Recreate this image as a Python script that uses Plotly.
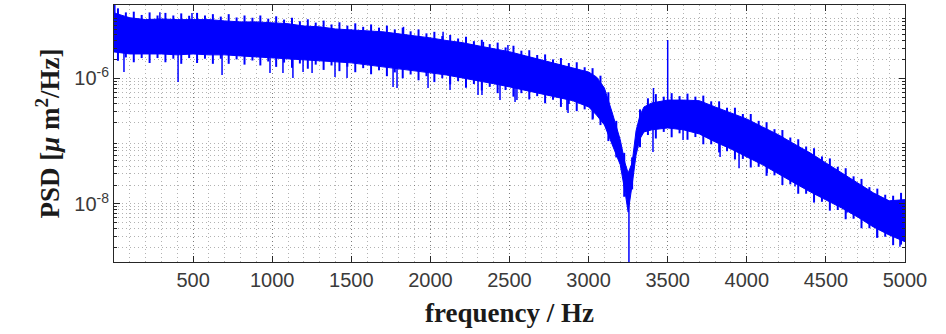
import plotly.graph_objects as go

# ---- data (PSD in um^2/Hz) ----
# dense core of the spectrum
band_freq = [0, 100, 200, 300, 400, 500, 600, 700, 800, 900, 1000, 1100, 1200, 1300, 1400,
             1500, 1600, 1700, 1800, 1900, 2000, 2100, 2200, 2300, 2400, 2500, 2600, 2700,
             2800, 2900, 3000, 3050, 3100, 3150, 3200, 3230, 3250, 3275, 3300, 3325, 3350,
             3400, 3500, 3600, 3700, 3800, 3900, 4000, 4100, 4200, 4300, 4400, 4500, 4600,
             4700, 4800, 4900, 5000]
band_top = [1.1e-5, 9.2e-6, 8.6e-6, 8.8e-6, 8.6e-6, 8.6e-6, 8.6e-6, 8.2e-6, 7.9e-6, 7.9e-6,
            7.7e-6, 7.4e-6, 6.8e-6, 6.6e-6, 6.1e-6, 5.9e-6, 5.7e-6, 5.5e-6, 5.1e-6, 4.8e-6,
            4.4e-6, 4.0e-6, 3.7e-6, 3.3e-6, 2.95e-6, 2.65e-6, 2.28e-6, 1.96e-6, 1.7e-6,
            1.47e-6, 1.26e-6, 1.05e-6, 7.0e-7, 2.8e-7, 1.05e-7, 4.5e-8, 3.1e-8, 4.5e-8,
            1.46e-7, 2.6e-7, 3.5e-7, 4.05e-7, 4.5e-7, 4.5e-7, 4.4e-7, 3.5e-7, 2.8e-7, 2.25e-7,
            1.68e-7, 1.26e-7, 9.0e-8, 6.5e-8, 4.5e-8, 3.1e-8, 2.16e-8, 1.5e-8, 1.12e-8, 1.17e-8]
band_bottom = [2.63e-6, 2.44e-6, 2.44e-6, 2.44e-6, 2.36e-6, 2.44e-6, 2.36e-6, 2.36e-6, 2.27e-6,
               2.2e-6, 2.12e-6, 2.04e-6, 1.96e-6, 1.89e-6, 1.83e-6, 1.76e-6, 1.64e-6, 1.52e-6,
               1.41e-6, 1.31e-6, 1.22e-6, 1.13e-6, 1.02e-6, 9.1e-7, 8.2e-7, 7.3e-7, 6.5e-7,
               5.8e-7, 5.0e-7, 4.4e-7, 3.5e-7, 2.6e-7, 1.81e-7, 8.7e-8, 4.2e-8, 1.56e-8,
               7.4e-9, 2.0e-8, 6.0e-8, 1.09e-7, 1.4e-7, 1.51e-7, 1.62e-7, 1.51e-7, 1.3e-7,
               9.7e-8, 7.5e-8, 5.6e-8, 4.2e-8, 3.0e-8, 2.16e-8, 1.56e-8, 1.15e-8, 8.6e-9,
               6.2e-9, 4.3e-9, 3.2e-9, 2.5e-9]

# noisy excursions around the core, every 50 Hz
edge_freq = [25, 75, 125, 175, 225, 275, 325, 375, 425, 475, 525, 575, 625, 675, 725, 775,
             825, 875, 925, 975, 1025, 1075, 1125, 1175, 1225, 1275, 1325, 1375, 1425, 1475,
             1525, 1575, 1625, 1675, 1725, 1775, 1825, 1875, 1925, 1975, 2025, 2075, 2125,
             2175, 2225, 2275, 2325, 2375, 2425, 2475, 2525, 2575, 2625, 2675, 2725, 2775,
             2825, 2875, 2925, 2975, 3025, 3075, 3125, 3175, 3225, 3275, 3325, 3375, 3425,
             3475, 3525, 3575, 3625, 3675, 3725, 3775, 3825, 3875, 3925, 3975, 4025, 4075,
             4125, 4175, 4225, 4275, 4325, 4375, 4425, 4475, 4525, 4575, 4625, 4675, 4725,
             4775, 4825, 4875, 4925, 4975]
edge_high = [1.3e-5, 1.12e-5, 1.15e-5, 1.02e-5, 1.12e-5, 1.0e-5, 1.1e-5, 1.0e-5, 1.08e-5, 9.9e-6,
             1.1e-5, 1.0e-5, 1.05e-5, 9.6e-6, 1.05e-5, 9.3e-6, 1.0e-5, 9.2e-6, 1.0e-5, 8.9e-6,
             9.7e-6, 8.6e-6, 9.2e-6, 8.1e-6, 8.7e-6, 7.7e-6, 8.3e-6, 7.2e-6, 7.8e-6, 6.9e-6,
             7.5e-6, 6.6e-6, 7.2e-6, 6.4e-6, 6.9e-6, 6.0e-6, 6.4e-6, 5.6e-6, 6.0e-6, 5.2e-6,
             5.5e-6, 4.7e-6, 4.9e-6, 4.3e-6, 4.6e-6, 3.9e-6, 4.1e-6, 3.5e-6, 3.7e-6, 3.1e-6,
             3.3e-6, 2.75e-6, 2.8e-6, 2.35e-6, 2.4e-6, 2.0e-6, 2.1e-6, 1.75e-6, 1.8e-6, 1.5e-6,
             1.45e-6, 1.1e-6, 6.0e-7, 2.1e-7, 6.5e-8, 5.5e-8, 3.2e-7, 4.8e-7, 5.6e-7, 5.1e-7,
             5.8e-7, 5.2e-7, 5.7e-7, 5.1e-7, 5.3e-7, 4.3e-7, 4.3e-7, 3.4e-7, 3.4e-7, 2.7e-7,
             2.7e-7, 2.1e-7, 2.0e-7, 1.55e-7, 1.5e-7, 1.14e-7, 1.07e-7, 8.2e-8, 7.7e-8, 5.7e-8,
             5.3e-8, 3.9e-8, 3.7e-8, 2.75e-8, 2.5e-8, 1.85e-8, 1.75e-8, 1.4e-8, 1.35e-8, 1.5e-8]
edge_low = [1.9e-6, 2.15e-6, 1.8e-6, 2.1e-6, 1.75e-6, 2.1e-6, 1.8e-6, 2.05e-6, 1.7e-6, 2.1e-6,
            1.75e-6, 2.05e-6, 1.7e-6, 2.05e-6, 1.7e-6, 2.0e-6, 1.65e-6, 1.92e-6, 1.6e-6, 1.85e-6,
            1.52e-6, 1.78e-6, 1.47e-6, 1.72e-6, 1.42e-6, 1.65e-6, 1.36e-6, 1.6e-6, 1.3e-6,
            1.53e-6, 1.25e-6, 1.45e-6, 1.16e-6, 1.34e-6, 1.08e-6, 1.24e-6, 1.0e-6, 1.15e-6,
            9.3e-7, 1.08e-6, 8.7e-7, 1.0e-6, 8.0e-7, 9.0e-7, 7.1e-7, 8.1e-7, 6.4e-7, 7.3e-7,
            5.8e-7, 6.5e-7, 5.1e-7, 5.8e-7, 4.6e-7, 5.2e-7, 4.0e-7, 4.55e-7, 3.5e-7, 3.9e-7,
            3.0e-7, 3.2e-7, 2.2e-7, 1.8e-7, 1.0e-7, 5.5e-8, 1.3e-8, 1.7e-8, 8.0e-8, 1.25e-7,
            1.1e-7, 1.4e-7, 1.15e-7, 1.33e-7, 1.05e-7, 1.16e-7, 8.9e-8, 8.9e-8, 6.6e-8, 6.9e-8,
            5.1e-8, 5.2e-8, 3.8e-8, 3.9e-8, 2.8e-8, 2.85e-8, 2.0e-8, 2.05e-8, 1.45e-8, 1.45e-8,
            1.05e-8, 1.08e-8, 7.8e-9, 8.0e-9, 5.7e-9, 5.8e-9, 4.1e-9, 4.1e-9, 2.9e-9, 3.0e-9,
            2.2e-9, 2.25e-9]

# isolated spikes: frequency, level inside the band, spike tip
spike_freq = [5, 63, 290, 405, 493, 683, 986, 1068, 1131, 1195, 1252, 1397, 1473, 1764, 1789,
              1830, 1985, 2080, 2124, 2301, 2326, 2335, 2440, 2490, 2535, 2547, 2863, 2870,
              3028, 3255, 3407, 3410, 3500, 3597, 3831, 3951, 4128, 4305, 4450, 4633, 4823, 4968]
spike_base = [5e-6, 4e-6, 5e-6, 4e-6, 5e-6, 4e-6, 3.5e-6, 3.5e-6, 3.5e-6, 3.5e-6, 3.5e-6, 3e-6,
              3e-6, 2.5e-6, 2.5e-6, 3e-6, 2.2e-6, 2.5e-6, 2e-6, 1.7e-6, 1.7e-6, 2e-6, 1.5e-6,
              1.6e-6, 1.3e-6, 1.3e-6, 8e-7, 8e-7, 6e-7, 1.5e-8, 2.5e-7, 2.5e-7, 2.5e-7, 2.5e-7,
              2e-7, 1.5e-7, 9e-8, 5e-8, 3e-8, 1.6e-8, 8e-9, 5e-9]
spike_tip = [1.47e-5, 1.26e-6, 1.13e-5, 8.7e-7, 1.1e-5, 1.13e-6, 1.21e-6, 1.21e-6, 1.01e-6,
             1.26e-6, 1.21e-6, 1.05e-6, 1.01e-6, 7.3e-7, 7.0e-7, 6.6e-6, 7.0e-7, 5.5e-6, 6.5e-7,
             5.4e-7, 5.4e-7, 3.8e-6, 4.5e-7, 3.4e-6, 4.2e-7, 4.5e-7, 3.1e-7, 2.8e-7, 2.3e-7,
             1e-9, 6.7e-8, 7.0e-7, 4.07e-6, 1.04e-7, 5.6e-8, 3.7e-8, 3.1e-8, 1.9e-8, 1.55e-8,
             7.2e-9, 2.9e-9, 2.07e-9]

x_ticks = [500, 1000, 1500, 2000, 2500, 3000, 3500, 4000, 4500, 5000]
y_ticks = [1e-8, 1e-6]
y_ticklabels = ["10<sup>-8</sup>", "10<sup>-6</sup>"]

BLUE = "#0000FF"

fig = go.Figure()

# solid core
poly_x = band_freq + band_freq[::-1]
poly_y = band_top + band_bottom[::-1]
fig.add_trace(go.Scatter(x=poly_x, y=poly_y, mode="lines", fill="toself",
                         fillcolor=BLUE, line=dict(color=BLUE, width=1),
                         hoverinfo="skip", showlegend=False))

# noise excursions
ex, ey = [], []
for f, lo, hi in zip(edge_freq, edge_low, edge_high):
    ex += [f, f, None]
    ey += [lo, hi, None]
fig.add_trace(go.Scatter(x=ex, y=ey, mode="lines", line=dict(color=BLUE, width=2),
                         showlegend=False, hoverinfo="skip"))

# isolated spikes
sx, sy = [], []
for f, b, t in zip(spike_freq, spike_base, spike_tip):
    sx += [f, f, None]
    sy += [b, t, None]
fig.add_trace(go.Scatter(x=sx, y=sy, mode="lines", line=dict(color=BLUE, width=1.5),
                         showlegend=False, hoverinfo="skip"))

minor_y = [m * 10.0 ** e for e in range(-10, -3) for m in range(2, 10)]
grid_col = "rgba(0,0,0,0.3)"
grid_dash = "1px,3px"
axis_col = "#262626"

fig.update_xaxes(
    range=[0, 5000], tickmode="array", tickvals=x_ticks,
    ticks="inside", ticklen=6, tickcolor=axis_col,
    showline=True, linecolor=axis_col, linewidth=1, mirror="ticks",
    showgrid=True, gridcolor=grid_col, griddash=grid_dash, gridwidth=1,
    minor=dict(dtick=100, tick0=0, showgrid=True, gridcolor=grid_col, griddash=grid_dash,
               gridwidth=1, ticks=""),
    tickfont=dict(family="Liberation Sans, Arial", size=20, color="#3a3a3a"),
    title=dict(text="<b>frequency / Hz</b>", standoff=13,
               font=dict(family="Liberation Serif, Times New Roman", size=27, color="#1a1a1a")),
    zeroline=False,
)
fig.update_yaxes(
    type="log", range=[-8.925, -4.833], tickmode="array", tickvals=y_ticks,
    ticktext=y_ticklabels,
    ticks="inside", ticklen=6, tickcolor=axis_col,
    showline=True, linecolor=axis_col, linewidth=1, mirror="ticks",
    showgrid=True, gridcolor=grid_col, griddash=grid_dash, gridwidth=1,
    minor=dict(tickmode="array", tickvals=minor_y, ticks="inside", ticklen=3,
               tickcolor=axis_col, showgrid=True, gridcolor=grid_col, griddash=grid_dash,
               gridwidth=1),
    tickfont=dict(family="Liberation Sans, Arial", size=20, color="#3a3a3a"),
    title=dict(text="<b>PSD [<i>μ</i> m<sup>2</sup>/Hz]</b>", standoff=6,
               font=dict(family="Liberation Serif, Times New Roman", size=27, color="#1a1a1a")),
    zeroline=False,
)

fig.update_layout(
    width=946, height=334,
    margin=dict(l=114, r=41, t=5, b=72),
    paper_bgcolor="white", plot_bgcolor="white",
    showlegend=False,
)

fig.write_html("out.html")
